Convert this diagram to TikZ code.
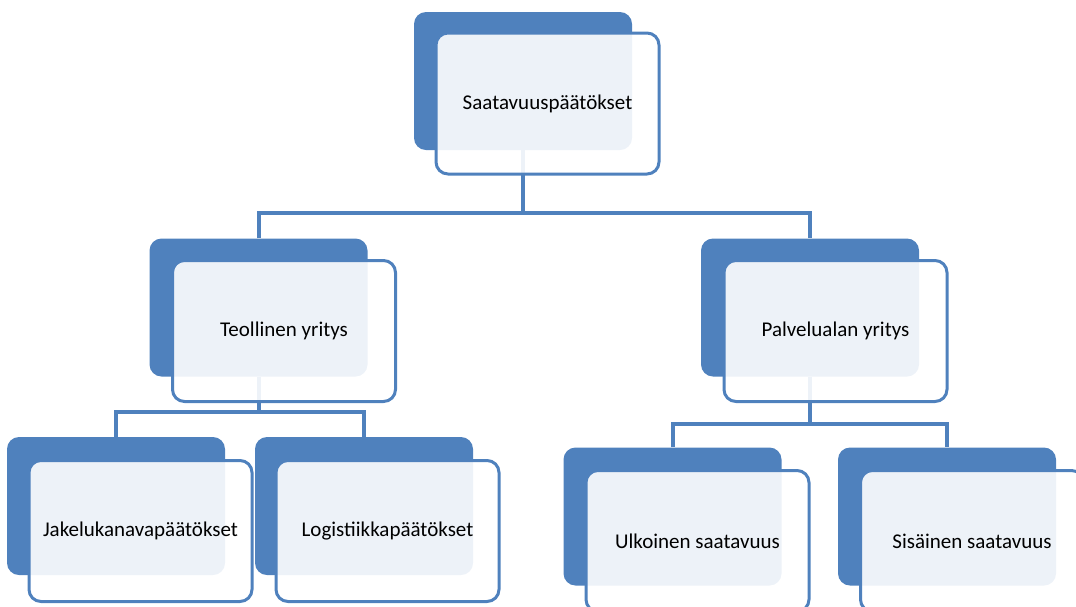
\documentclass[tikz,border=0pt]{standalone}
\usepackage{fontspec}
\setmainfont{Carlito}
\usetikzlibrary{positioning}
\definecolor{boxblue}{HTML}{4F81BD}

\begin{document}
\begin{tikzpicture}[x=1pt, y=-1pt,
  back/.style={rectangle, rounded corners=12pt, fill=boxblue, draw=none,
    minimum width=218pt, minimum height=138pt, inner sep=0pt},
  front/.style={rectangle, rounded corners=12pt, draw=boxblue, line width=3pt,
    fill=white, fill opacity=0.9, text opacity=1, font=\fontsize{21}{24}\selectfont,
    minimum width=223pt, minimum height=141pt, inner sep=0pt},
  conn/.style={draw=boxblue, line width=4pt}]
  \useasboundingbox (0,0) rectangle (1076,606);
  \clip (0,0) rectangle (1076,606);
  % back boxes
  \node[back] (s) at (523,81) {};
  \node[back] (t) at (258.5,307.5) {};
  \node[back] (p) at (810,307.5) {};
  \node[back] (j) at (116,506) {};
  \node[back] (l) at (364,506) {};
  \node[back] (u) at (672.5,516.5) {};
  \node[back] (i) at (947,516.5) {};
  % connectors
  \coordinate (sj) at (523,213);
  \coordinate (tj) at (258.5,412);
  \coordinate (pj) at (810,424);
  \draw[conn] (s.south) -- (sj);
  \draw[conn] (t.north) |- (sj) -| (p.north);
  \draw[conn] (t.south) -- (tj);
  \draw[conn] (j.north) |- (tj) -| (l.north);
  \draw[conn] (p.south) -- (pj);
  \draw[conn] (u.north) |- (pj) -| (i.north);
  % front boxes
  \node[front] (s2) at (547.5,103.5) {Saatavuuspäätökset};
  \node[front] (t2) at (284,331) {Teollinen yritys};
  \node[front] (p2) at (835.5,331) {Palvelualan yritys};
  \node[front] (j2) at (140.5,531) {Jakelukanavapäätökset};
  \node[front] (l2) at (387.5,531) {Logistiikkapäätökset};
  \node[front] (u2) at (697.5,541) {Ulkoinen saatavuus};
  \node[front] (i2) at (972,541) {Sisäinen saatavuus};
\end{tikzpicture}
\end{document}
